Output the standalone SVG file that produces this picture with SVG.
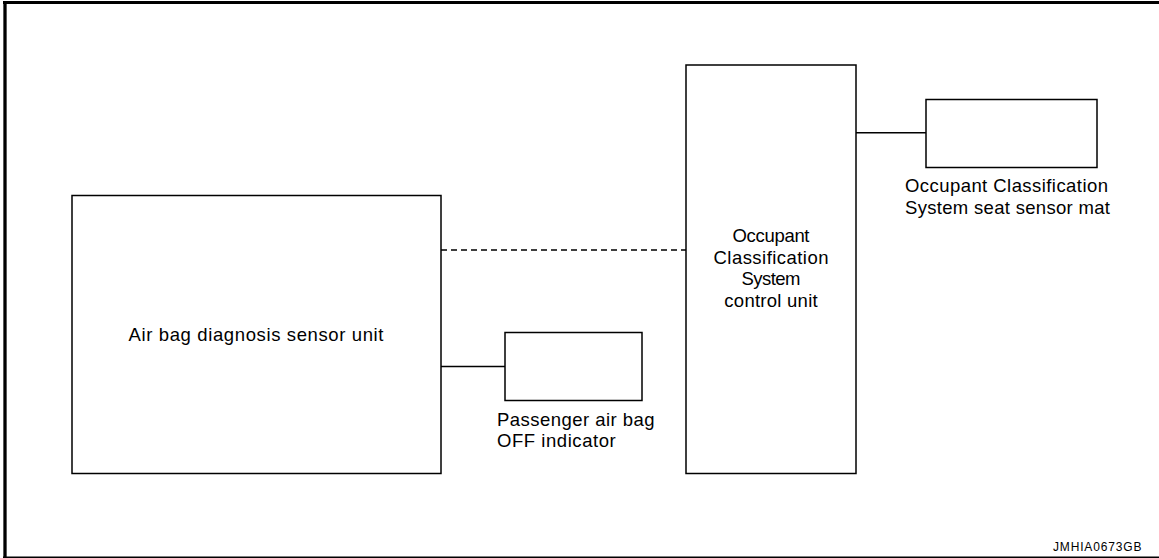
<svg xmlns="http://www.w3.org/2000/svg" width="1159" height="558" viewBox="0 0 1159 558">
<style>
.box{fill:#fff;stroke:#000;stroke-width:1.5}
.ln{fill:none;stroke:#000;stroke-width:1.4}
.dash{stroke-dasharray:6 4}
.t{font-family:"Liberation Sans",Arial,sans-serif;font-size:18.5px;fill:#000}
.c{text-anchor:middle}
.id{font-family:"Liberation Sans",Arial,sans-serif;font-size:12px;fill:#000}
</style>
<rect width="1159" height="558" fill="#fff"/>
<g id="frame">
<line x1="3" y1="2.5" x2="1159" y2="2.5" stroke="#000" stroke-width="3"/>
<line x1="5" y1="1" x2="5" y2="558" stroke="#000" stroke-width="3.3"/>
<line x1="3" y1="557.2" x2="1159" y2="557.2" stroke="#000" stroke-width="1.4"/>
</g>
<g id="connectors">
<line class="ln dash" x1="441" y1="250" x2="686" y2="250"/>
<line class="ln" x1="441" y1="366.5" x2="505" y2="366.5"/>
<line class="ln" x1="856" y1="132.7" x2="926" y2="132.7"/>
</g>
<g id="airbag-unit">
<rect class="box" x="72" y="195.5" width="369" height="278"/>
<text class="t c" x="256" y="341" textLength="255" lengthAdjust="spacing">Air bag diagnosis sensor unit</text>
</g>
<g id="off-indicator">
<rect class="box" x="505" y="332.5" width="137" height="68"/>
<text class="t" x="497" y="426" textLength="157.6" lengthAdjust="spacing">Passenger air bag</text>
<text class="t" x="497" y="447" textLength="118.7" lengthAdjust="spacing">OFF indicator</text>
</g>
<g id="ocs-control-unit">
<rect class="box" x="686" y="65" width="170" height="408.5"/>
<text class="t c" x="771" y="241.5" textLength="77" lengthAdjust="spacing">Occupant</text>
<text class="t c" x="771" y="263.5" textLength="115" lengthAdjust="spacing">Classification</text>
<text class="t c" x="771" y="285" textLength="59" lengthAdjust="spacing">System</text>
<text class="t c" x="771" y="306.5" textLength="93.3" lengthAdjust="spacing">control unit</text>
</g>
<g id="seat-sensor-mat">
<rect class="box" x="926" y="99.5" width="171" height="68"/>
<text class="t" x="905" y="192" textLength="203" lengthAdjust="spacing">Occupant Classification</text>
<text class="t" x="905" y="213.5" textLength="205" lengthAdjust="spacing">System seat sensor mat</text>
</g>
<text class="id" x="1053" y="551" textLength="88.5" lengthAdjust="spacing">JMHIA0673GB</text>
</svg>
